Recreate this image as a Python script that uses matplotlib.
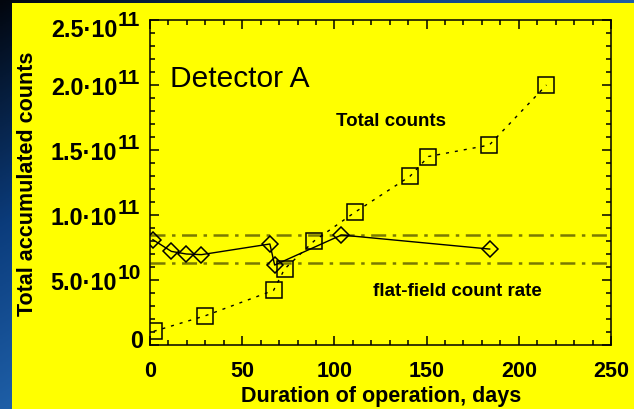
import numpy as np
import matplotlib
matplotlib.use('Agg')
import matplotlib.pyplot as plt
from matplotlib.colors import LinearSegmentedColormap
from matplotlib.patches import Rectangle
from matplotlib.ticker import MultipleLocator

# total accumulated counts (squares, dotted)
days_total = [2, 30, 67, 73, 89, 111, 141, 151, 184, 215]
counts_total = [1.05e10, 2.25e10, 4.2e10, 5.85e10, 8.0e10, 1.02e11, 1.298e11, 1.45e11, 1.538e11, 2.0e11]

# flat-field count rate (diamonds, solid)
days_rate = [1.6, 11.6, 19.7, 27.9, 65, 67.6, 103.8, 184.2]
counts_rate = [8.1e10, 7.2e10, 7.0e10, 6.95e10, 7.77e10, 6.15e10, 8.46e10, 7.38e10]

# dash-dot band of the count rate
rate_limits = [8.48e10, 6.28e10]

xticks = [0, 50, 100, 150, 200, 250]
yticks = [0, 5e10, 1e11, 1.5e11, 2e11, 2.5e11]
ytick_base = ['0', '5.0·10', '1.0·10', '1.5·10', '2.0·10', '2.5·10']
ytick_exp = ['', '10', '11', '11', '11', '11']

plt.rcParams['font.family'] = ['Liberation Sans', 'DejaVu Sans']
plt.rcParams['lines.scale_dashes'] = False

fig = plt.figure(figsize=(6.34, 4.10), dpi=100)

# blue slide background (dark top-left corner)
bg = fig.add_axes([0, 0, 1, 1], zorder=-2)
gx, gy = np.meshgrid(np.linspace(0, 1, 200), np.linspace(0, 1, 200))
cmap = LinearSegmentedColormap.from_list('slide', ['#02060e', '#0b3c7c', '#2266b0'])
bg.imshow(np.clip(0.9 * gx + 0.9 * gy, 0, 1), cmap=cmap, vmin=0, vmax=1,
          aspect='auto', extent=[0, 1, 0, 1], origin='upper')
bg.axis('off')

# yellow panel
fig.patches.append(Rectangle((12 / 634, 0), 622 / 634, 406.5 / 410,
                             transform=fig.transFigure, facecolor='#ffff00',
                             edgecolor='none', zorder=-1))

ax = fig.add_axes([150 / 634, 64 / 410, 461 / 634, 325 / 410], facecolor='#ffff00')

for lev in rate_limits:
    ax.axhline(lev, color='#7a7a00', lw=1.8, ls=(0, (10.8, 4.7, 2.5, 4.7)))

ax.plot(days_total, counts_total, color='k', lw=1, ls=(0, (2.2, 4.3)),
        marker='s', ms=12, mfc='none', mec='k', mew=1.1)
ax.plot(days_rate, counts_rate, color='k', lw=1, ls='-',
        marker='D', ms=8, mfc='none', mec='k', mew=1.1)

ax.set_xlim(0, 250)
ax.set_ylim(0, 2.5e11)

# ticks inside on all four sides
ax.set_xticks(xticks)
ax.set_yticks(yticks)
ax.xaxis.set_minor_locator(MultipleLocator(10))
ax.yaxis.set_minor_locator(MultipleLocator(1e10))
ax.tick_params(which='both', direction='in', top=True, right=True, width=1.1, color='k')
ax.tick_params(which='major', length=6.7)
ax.tick_params(which='minor', length=3.8)
ax.tick_params(axis='x', labelsize=15.5, pad=11)
ax.tick_params(axis='y', labelleft=False)
for lbl in ax.get_xticklabels():
    lbl.set_fontweight('bold')
for sp in ax.spines.values():
    sp.set_linewidth(1.1)

# y tick labels written as mantissa + raised exponent
for val, base, exp in zip(yticks, ytick_base, ytick_exp):
    dy = 0
    if val == yticks[0]:
        dy = 4.7
    elif val == yticks[-1]:
        dy = -5
    if exp:
        ax.annotate(base, xy=(0, val), xycoords=('axes fraction', 'data'),
                    xytext=(-23.6, dy), textcoords='offset points', ha='right',
                    va='center_baseline', fontsize=16.8, fontweight='bold',
                    annotation_clip=False)
        ax.annotate(exp, xy=(0, val), xycoords=('axes fraction', 'data'),
                    xytext=(-23, dy + 7), textcoords='offset points', ha='left',
                    va='center_baseline', fontsize=15, fontweight='bold',
                    annotation_clip=False)
    else:
        ax.annotate(base, xy=(0, val), xycoords=('axes fraction', 'data'),
                    xytext=(-5, dy), textcoords='offset points', ha='right',
                    va='center_baseline', fontsize=16.8, fontweight='bold',
                    annotation_clip=False)

ax.set_xlabel('Duration of operation, days', fontsize=15.5, fontweight='bold')
ax.xaxis.set_label_coords(0.502, -0.123)
ax.set_ylabel('Total accumulated counts', fontsize=15.5, fontweight='bold')
ax.yaxis.set_label_coords(-0.244, 0.5)

ax.text(0.043, 0.797, 'Detector A', fontsize=21.5, transform=ax.transAxes, va='baseline')
ax.text(0.523, 0.677, 'Total counts', fontsize=13.5, fontweight='bold',
        transform=ax.transAxes, ha='center', va='baseline')
ax.text(0.666, 0.154, 'flat-field count rate', fontsize=13.5, fontweight='bold',
        transform=ax.transAxes, ha='center', va='baseline')

fig.savefig('out.png', dpi=100)
